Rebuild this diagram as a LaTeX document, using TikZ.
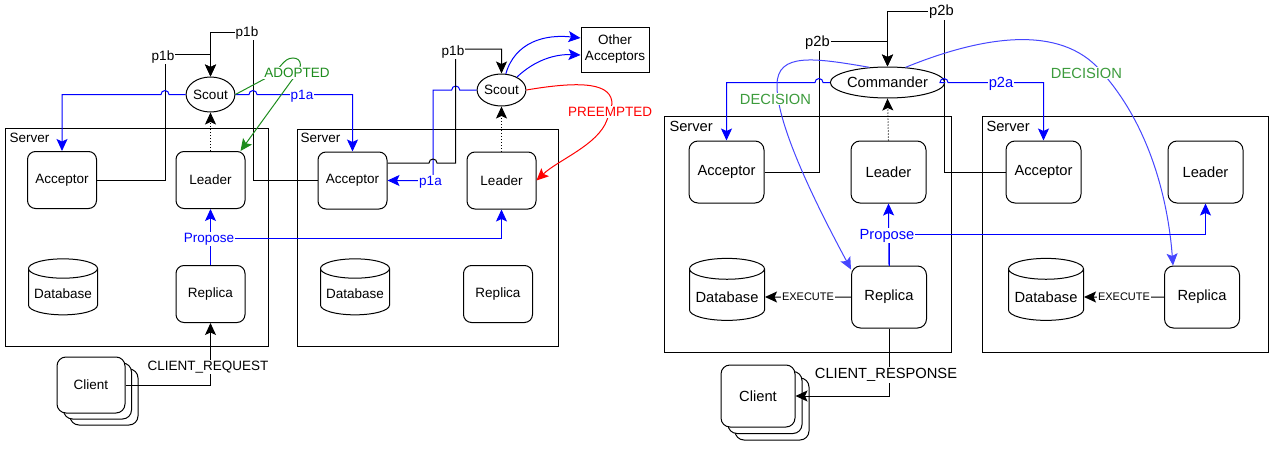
\documentclass[tikz,border=0pt]{standalone}
\usepackage{fontspec}
\setmainfont{Liberation Sans}
\usetikzlibrary{shapes.geometric,arrows.meta}
\definecolor{msgblue}{RGB}{0,0,255}
\definecolor{decblue}{RGB}{70,70,255}
\definecolor{okgreen}{RGB}{30,140,30}
\definecolor{decgreen}{RGB}{60,155,60}
\newcommand\leftsize{\fontsize{13.5}{16}\selectfont}
\newcommand\rightsize{\fontsize{14.7}{17}\selectfont}
\newcommand\execsize{\fontsize{11}{13}\selectfont}
\begin{document}
\begin{tikzpicture}[x=1pt,y=-1pt,line width=1pt,
  comp/.style={draw,rounded corners=8pt,minimum width=69pt,minimum height=57pt,font=\leftsize},
  compr/.style={draw,rounded corners=9pt,minimum width=75pt,minimum height=62pt,font=\rightsize},
  db/.style={draw,cylinder,shape border rotate=90,aspect=0.3,minimum width=69pt,minimum height=56pt,font=\leftsize},
  dbr/.style={db,minimum width=75pt,minimum height=62pt,font=\rightsize},
  role/.style={draw,ellipse,inner sep=0pt},
  card/.style={draw,fill=white,rounded corners=9pt},
  lbl/.style={fill=white,inner sep=1pt,font=\leftsize},
  lblr/.style={fill=white,inner sep=1pt,font=\rightsize},
  arr/.style={-{Stealth[length=12pt,width=11pt,inset=2.5pt]}}]

\useasboundingbox (0,0) rectangle (1274,455);

% servers
\draw (5,128) rectangle (268,346);
\draw (297,129) rectangle (558,346);
\draw (664,116) rectangle (951,352);
\draw (982,116) rectangle (1268,352);
\node[anchor=west,inner sep=0pt,font=\leftsize] (srv1) at (9,138) {Server};
\node[anchor=west,inner sep=0pt,font=\leftsize] (srv2) at (300,138) {Server};
\node[anchor=west,inner sep=0pt,font=\rightsize] (srv3) at (669,126) {Server};
\node[anchor=west,inner sep=0pt,font=\rightsize] (srv4) at (986,126) {Server};

% left side
\node[comp] (acc1) at (62,180) {Acceptor};
\node[comp] (lead1) at (210.5,180) {Leader};
\node[db] (db1) at (63,294) {Database};
\node[comp] (rep1) at (210.5,294) {Replica};
\node[comp] (acc2) at (352.5,180.5) {Acceptor};
\node[comp] (lead2) at (501.5,180.5) {Leader};
\node[db] (db2) at (355,294) {Database};
\node[comp] (rep2) at (498,294) {Replica};
\node[role,minimum width=47pt,minimum height=35pt,font=\leftsize] (scout1) at (210.5,94.5) {Scout};
\node[role,minimum width=47pt,minimum height=32pt,font=\leftsize] (scout2) at (501.5,90) {Scout};
\node[draw,align=center,minimum width=68pt,minimum height=45pt,font=\leftsize] (others) at (615,49.5) {Other\\Acceptors};
\node[card,minimum width=68pt,minimum height=56pt] (client1c) at (104,397) {};
\node[card,minimum width=68pt,minimum height=56pt] (client1b) at (97.5,391) {};
\node[card,minimum width=68pt,minimum height=56pt,font=\leftsize] (client1) at (91,385) {Client};

\draw[arr] (acc1.east) -- (165,180) -- (165,54) -- (210.5,54) -- (scout1.north);
\draw[arr] (acc2.west) -- (253,180.5) -- (253,32) -- (210.5,32) -- (scout1.north);
\draw[arr,msgblue] (scout1.west) -- (169,94.5) arc[start angle=0,end angle=-180,radius=4] -| (acc1.north);
\draw[arr,msgblue] (scout1.east) -- (249,94.5) arc[start angle=180,end angle=360,radius=4] -| (acc2.north);
\draw[arr,dotted] (lead1.north) -- (scout1.south);
\draw[arr,okgreen] (scout1.east) -- (270,76) .. controls (280,70) and (283,58) .. (293,58)
  .. controls (302,58) and (304,68) .. (292,80) -- ([xshift=-5pt]lead1.north east);
\draw[arr,msgblue] (rep1.north) -- (lead1.south);
\draw[arr,msgblue] (rep1.north) -- (210.5,238) -| (lead2.south);
\draw[arr] (client1.east) -| (rep1.south);

\draw[arr,msgblue] (scout2.west) -- (459.7,90) arc[start angle=0,end angle=-180,radius=4] -| (433,180.5) -- (acc2.east);
\draw[arr] ([yshift=17.5pt]acc2.east) -- (429,163) arc[start angle=180,end angle=360,radius=4] -- (455.7,163) -- (455.7,49) -- (501.5,49) -- (scout2.north);
\draw[arr,dotted] (lead2.north) -- (scout2.south);
\draw[arr,msgblue] (scout2.75) .. controls (515,42) and (545,34) .. ([yshift=11.5pt]others.west);
\draw[arr,msgblue] (scout2.40) .. controls (535,60) and (555,54) .. ([yshift=-5.5pt]others.west);
\draw[arr,red] (scout2.east) .. controls (585,80) and (612,84) .. (612,104) -- (607,120)
  .. controls (598,145) and (558,160) .. (lead2.east);

\node[lbl] (lp1b1) at (163,57) {p1b};
\node[lbl] (lp1b2) at (247,33) {p1b};
\node[lbl,text=msgblue] (lp1a1) at (302,96) {p1a};
\node[lbl,text=okgreen] (ladopt) at (297,73) {ADOPTED};
\node[lbl,text=msgblue] (lprop1) at (209,239) {Propose};
\node[lbl] (lreq) at (208,367) {CLIENT\_REQUEST};
\node[lbl] (lp1b3) at (453,52) {p1b};
\node[lbl,text=msgblue] (lp1a2) at (430.5,182) {p1a};
\node[lbl,text=red] (lpre) at (610,112) {PREEMPTED};

% right side
\node[compr] (acc3) at (726.5,172) {Acceptor};
\node[compr] (lead3) at (888.5,172) {Leader};
\node[dbr] (db3) at (727,297) {Database};
\node[compr] (rep3) at (889,297) {Replica};
\node[compr] (acc4) at (1043.5,172) {Acceptor};
\node[compr] (lead4) at (1205.5,172) {Leader};
\node[dbr] (db4) at (1046,297) {Database};
\node[compr] (rep4) at (1202,297) {Replica};
\node[role,minimum width=99pt,minimum height=31pt,font=\rightsize] (cmd) at (887.5,82.5) {Commander};
\node[card,minimum width=74pt,minimum height=62pt] (client2c) at (772,409) {};
\node[card,minimum width=74pt,minimum height=62pt] (client2b) at (765,402.5) {};
\node[card,minimum width=74pt,minimum height=62pt,font=\rightsize] (client2) at (758,396) {Client};

\draw[arr] (acc3.east) -- (819,172) -- (819,41.7) -- (887.5,41.7) -- (cmd.north);
\draw[arr] (acc4.west) -- (944,172) -- (944,11) -- (887.5,11) -- (cmd.north);
\draw[arr,msgblue] (cmd.west) -- (823,82.5) arc[start angle=0,end angle=-180,radius=4] -| (acc3.north);
\draw[arr,msgblue] (cmd.east) -- (940,82.5) arc[start angle=180,end angle=360,radius=4] -| (acc4.north);
\draw[arr,dotted] (lead3.north) -- (cmd.south);
\draw[arr,decblue] (cmd.140) .. controls (815,58) and (777,52) .. (777,85)
  .. controls (776,130) and (830,230) .. ([yshift=-4pt]rep3.north west);
\draw[arr,decblue] (cmd.40) .. controls (985,35) and (1060,25) .. (1100,70)
  .. controls (1150,125) and (1168,200) .. ([xshift=9pt]rep4.north west);
\draw[arr,msgblue] (rep3.north) -- (lead3.south);
\draw[arr,msgblue] (rep3.north) -- (889,234) -| (lead4.south);
\draw[arr] (rep3.west) -- (db3.east) node[midway,fill=white,inner sep=1pt,font=\execsize] (lexe1) {EXECUTE};
\draw[arr] (rep4.west) -- (db4.east) node[midway,fill=white,inner sep=1pt,font=\execsize] (lexe2) {EXECUTE};
\draw[arr] (rep3.south) |- (client2.east);

\node[lblr] (lp2b1) at (817.5,43) {p2b};
\node[lblr] (lp2b2) at (941.5,12) {p2b};
\node[lblr,text=msgblue] (lp2a) at (1001,84) {p2a};
\node[lblr,text=decgreen] (ldec1) at (775.5,99) {DECISION};
\node[lblr,text=decgreen] (ldec2) at (1086.5,73) {DECISION};
\node[lblr,text=msgblue] (lprop2) at (887,235.7) {Propose};
\node[lblr] (lresp) at (886,375) {CLIENT\_RESPONSE};

\end{tikzpicture}
\end{document}
